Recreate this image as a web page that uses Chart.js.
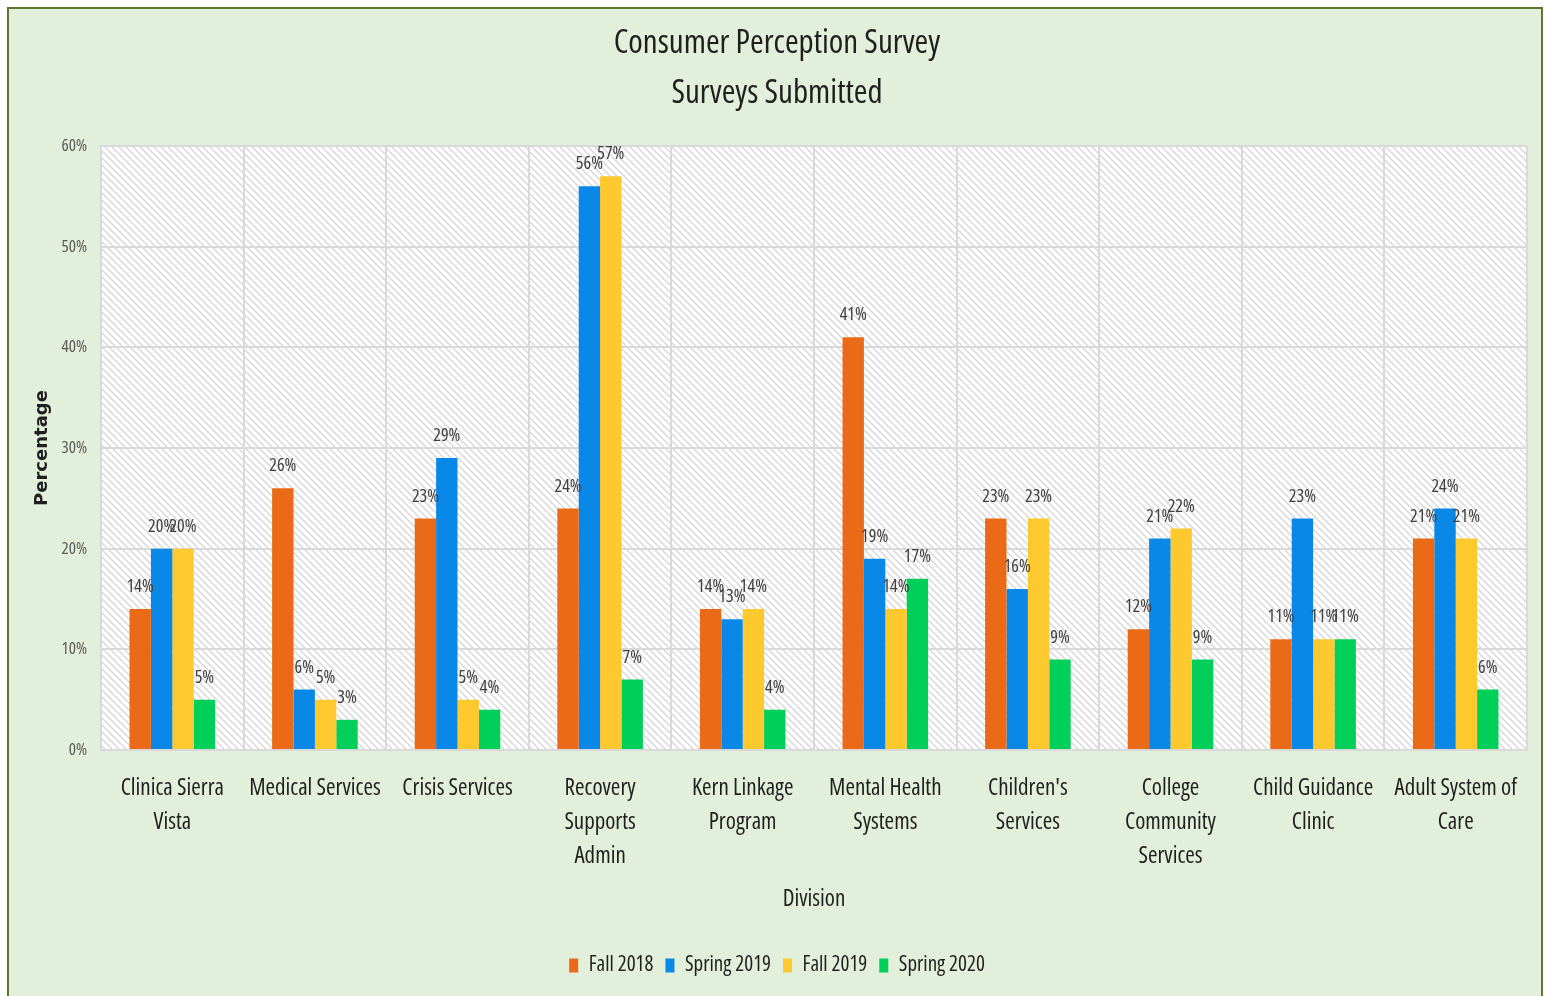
<!DOCTYPE html>
<html>
<head>
<meta charset="utf-8">
<script src="https://cdn.jsdelivr.net/npm/chart.js@4.4.0/dist/chart.umd.min.js"></script>
<style>
  html, body { margin: 0; padding: 0; background: #ffffff; overflow: hidden; }
  #frame {
    position: absolute; left: 7px; top: 7px; width: 1536px; height: 995px;
    background: #e2efda; border: 2px solid #5b7631; box-sizing: border-box;
  }
  #wrap { position: absolute; left: 0; top: 0; width: 1545px; height: 996px; }
</style>
</head>
<body>
<div id="frame"></div>
<div id="wrap"><canvas id="chart"></canvas></div>
<script>
// Consumer Perception Survey — surveys submitted by division
// 'condensed' goes in the weight slot so the canvas font string becomes "condensed 22px 'Open Sans'"
const FONT = "'Open Sans', 'DejaVu Sans Condensed', sans-serif";
const NARROW = 'condensed';

const divisions = [
  ['Clinica Sierra', 'Vista'],
  'Medical Services',
  'Crisis Services',
  ['Recovery', 'Supports', 'Admin'],
  ['Kern Linkage', 'Program'],
  ['Mental Health', 'Systems'],
  ["Children's", 'Services'],
  ['College', 'Community', 'Services'],
  ['Child Guidance', 'Clinic'],
  ['Adult System of', 'Care'],
];

const fall2018 = [14, 26, 23, 24, 14, 41, 23, 12, 11, 21];
const spring2019 = [20, 6, 29, 56, 13, 19, 16, 21, 23, 24];
const fall2019 = [20, 5, 5, 57, 14, 14, 23, 22, 11, 21];
const spring2020 = [5, 3, 4, 7, 4, 17, 9, 9, 11, 6];

const seriesNames = ['Fall 2018', 'Spring 2019', 'Fall 2019', 'Spring 2020'];
const seriesColors = ['#ea6a17', '#0a88e8', '#fec92e', '#00cf5a'];

function hatchPattern(ctx) {
  const c = document.createElement('canvas');
  c.width = 7; c.height = 7;
  const p = c.getContext('2d');
  p.fillStyle = '#ffffff';
  p.fillRect(0, 0, 7, 7);
  p.strokeStyle = '#d9d9d9';
  p.lineWidth = 1.5;
  p.beginPath();
  p.moveTo(-1, -1); p.lineTo(8, 8);
  p.moveTo(-1, 6); p.lineTo(1, 8);
  p.moveTo(6, -1); p.lineTo(8, 1);
  p.stroke();
  return ctx.createPattern(c, 'repeat');
}

const plotBackground = {
  id: 'plotBackground',
  beforeDraw(chart) {
    const { ctx, chartArea: a } = chart;
    ctx.save();
    ctx.fillStyle = hatchPattern(ctx);
    ctx.fillRect(a.left, a.top, a.right - a.left, a.bottom - a.top);
    ctx.restore();
  },
};

const valueLabels = {
  id: 'valueLabels',
  afterDatasetsDraw(chart) {
    const { ctx } = chart;
    ctx.save();
    ctx.font = NARROW + ' 18px ' + FONT;
    ctx.fillStyle = '#404040';
    ctx.textAlign = 'center';
    ctx.textBaseline = 'middle';
    chart.data.datasets.forEach((ds, i) => {
      chart.getDatasetMeta(i).data.forEach((bar, j) => {
        ctx.fillText(ds.data[j] + '%', bar.x, bar.y - 22);
      });
    });
    ctx.restore();
  },
};

const series = [fall2018, spring2019, fall2019, spring2020];

new Chart(document.getElementById('chart'), {
  type: 'bar',
  data: {
    labels: divisions,
    datasets: series.map((data, i) => ({
      label: seriesNames[i],
      data,
      backgroundColor: seriesColors[i],
      borderWidth: 0,
      categoryPercentage: 0.6,
      barPercentage: 1.0,
    })),
  },
  options: {
    responsive: true,
    maintainAspectRatio: false,
    animation: false,
    layout: { autoPadding: false, padding: { left: 27, right: 18, top: 0, bottom: 10 } },
    scales: {
      x: {
        grid: { color: '#d9d9d9', lineWidth: 2, offset: true, drawTicks: false },
        border: { color: '#d9d9d9', width: 2 },
        ticks: { color: '#1f1f1f', font: { family: FONT, size: 23, weight: NARROW, lineHeight: 1.48 }, padding: 21, maxRotation: 0, autoSkip: false },
        title: { display: true, text: 'Division', color: '#1f1f1f', font: { family: FONT, size: 23, weight: NARROW }, padding: { top: 4, bottom: 30 } },
        afterFit(scale) { scale.height = 193; },
      },
      y: {
        min: 0, max: 60,
        grid: { color: '#d9d9d9', lineWidth: 2, drawTicks: false },
        border: { color: '#d9d9d9', width: 2 },
        ticks: { stepSize: 10, color: '#595959', font: { family: FONT, size: 17, weight: NARROW }, padding: 14, callback: (v) => v + '%' },
        title: { display: true, text: 'Percentage', color: '#1f1f1f', font: { family: "'DejaVu Sans', sans-serif", size: 18, weight: 'bold' }, padding: { top: 5, bottom: 0 } },
        afterFit(scale) { scale.width = 74; },
      },
    },
    plugins: {
      title: {
        display: true,
        text: ['Consumer Perception Survey', 'Surveys Submitted'],
        color: '#1f1f1f',
        font: { family: FONT, size: 33, weight: NARROW, lineHeight: 50 / 33 },
        padding: { top: 19, bottom: 27 },
      },
      legend: {
        position: 'bottom',
        labels: { color: '#1f1f1f', font: { family: FONT, size: 21, weight: NARROW }, boxWidth: 9, boxHeight: 14, padding: 12 },
      },
      tooltip: { enabled: false },
    },
  },
  plugins: [plotBackground, valueLabels],
});
</script>
</body>
</html>
